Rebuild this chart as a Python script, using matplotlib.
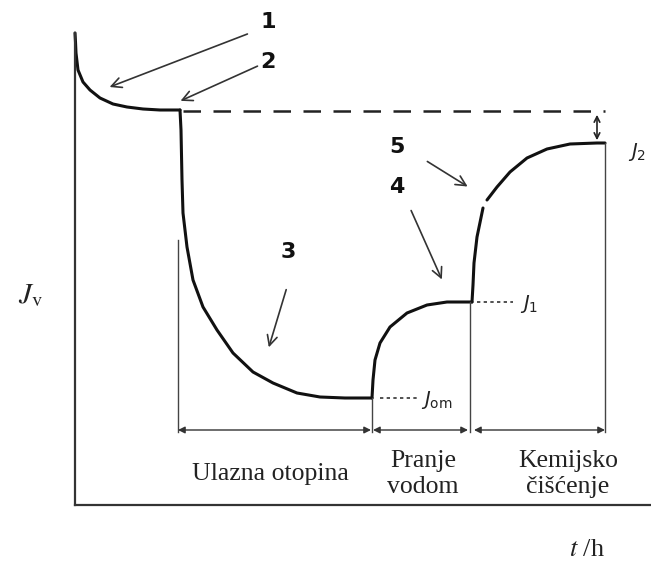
import matplotlib.pyplot as plt

# Schematic flux curve (x = time, y = flux in picture units,
# smaller y = higher flux, so the y axis is inverted)
start_t = [75, 75.5, 76, 78, 83, 90, 100, 113, 127, 143, 160, 180]
start_J = [33, 42, 53, 70, 82, 90, 98, 104, 107, 109, 110, 110]

feed_t = [180, 181, 182, 183, 187, 193, 203, 217, 233, 253, 273, 297, 320, 345, 372]
feed_J = [110, 130, 180, 213, 247, 280, 307, 330, 353, 372, 383, 393, 397, 398, 398]

wash_t = [372, 373, 375, 380, 390, 407, 427, 447, 472]
wash_J = [398, 380, 360, 343, 327, 313, 305, 302, 302]

clean_t1 = [472, 473, 474, 477, 483]
clean_J1 = [302, 285, 263, 237, 208]
clean_t2 = [487, 497, 510, 527, 547, 570, 597, 605]
clean_J2 = [200, 187, 172, 158, 149, 144, 143, 143]

J0_level = 111
Jom_level = 398
J1_level = 302
J2_level = 143

t_feed_end = 372
t_wash_end = 470
t_end = 605

phase_labels = ['Ulazna otopina', 'Pranje\nvodom', 'Kemijsko\nčišćenje']
phase_x = [270, 423, 568]

fig = plt.figure(figsize=(6.51, 5.65), dpi=100)
ax = fig.add_axes([0, 0, 1, 1])
ax.set_xlim(0, 651)
ax.set_ylim(565, 0)
ax.set_xticks([])
ax.set_yticks([])
for s in ['top', 'right']:
  ax.spines[s].set_visible(False)
ax.spines['left'].set_position(('data', 75))
ax.spines['left'].set_bounds(33, 505)
ax.spines['bottom'].set_position(('data', 505))
ax.spines['bottom'].set_bounds(75, 651)
for s in ['left', 'bottom']:
  ax.spines[s].set_linewidth(1.6)
  ax.spines[s].set_color('#333333')

# Flux curve.
curve = dict(color='#111111', lw=2.2, solid_capstyle='round', solid_joinstyle='round')
ax.plot(start_t, start_J, **curve)
ax.plot(feed_t, feed_J, **curve)
ax.plot(wash_t, wash_J, **curve)
ax.plot(clean_t1, clean_J1, **curve)
ax.plot(clean_t2, clean_J2, **curve)

# Reference levels.
ax.plot([183, t_end], [J0_level, J0_level], color='#222222', lw=1.8, dashes=(7, 5))
ax.plot([380, 417], [Jom_level, Jom_level], color='#333333', lw=1.2, dashes=(2, 2))
ax.plot([477, 513], [J1_level, J1_level], color='#333333', lw=1.2, dashes=(2, 2))
ax.annotate('', xy=(597, J0_level + 1), xytext=(597, J2_level),
            arrowprops=dict(arrowstyle='<->', color='#222222', lw=1.2))

# Phase boundaries and brackets.
thin = dict(color='#444444', lw=1.0)
ax.plot([178, 178], [240, 432], **thin)
ax.plot([t_feed_end, t_feed_end], [Jom_level, 432], **thin)
ax.plot([t_wash_end, t_wash_end], [J1_level, 432], **thin)
ax.plot([t_end, t_end], [J2_level, 432], **thin)
bracket_y = 430
for x0, x1 in [(178, t_feed_end - 1), (t_feed_end + 1, t_wash_end - 2), (t_wash_end + 4, t_end)]:
  ax.annotate('', xy=(x1, bracket_y), xytext=(x0, bracket_y),
              arrowprops=dict(arrowstyle='<|-|>', color='#333333', lw=1.0,
                              mutation_scale=10, shrinkA=0, shrinkB=0))

for label, x in zip(phase_labels, phase_x):
  ax.text(x, 474, label, ha='center', va='center', fontsize=18.5,
          family='Liberation Serif', color='#222222', linespacing=1.25)

# Numbered pointers.
arrow = dict(arrowstyle='->', color='#333333', lw=1.2, mutation_scale=18)
num = dict(fontsize=16, fontweight='bold', ha='center', va='center', color='#111111')
ax.text(268, 22, '1', **num)
ax.annotate('', xy=(107, 88), xytext=(250, 33), arrowprops=arrow)
ax.text(268, 62, '2', **num)
ax.annotate('', xy=(178, 102), xytext=(260, 65), arrowprops=arrow)
ax.text(288, 252, '3', **num)
ax.annotate('', xy=(268, 350), xytext=(287, 287), arrowprops=arrow)
ax.text(397, 147, '5', **num)
ax.annotate('', xy=(470, 188), xytext=(425, 160), arrowprops=arrow)
ax.text(397, 187, '4', **num)
ax.annotate('', xy=(443, 282), xytext=(410, 208), arrowprops=arrow)

# Flux labels.
ax.text(421, 400, '$J_{\\mathrm{om}}$', fontsize=14, ha='left', va='center', color='#222222')
ax.text(520, 304, '$J_{1}$', fontsize=14, ha='left', va='center', color='#222222')
ax.text(628, 152, '$J_{2}$', fontsize=14, ha='left', va='center', color='#222222')
ax.text(30, 295, '$J_{\\mathrm{v}}$', fontsize=21, ha='center', va='center',
        math_fontfamily='stix', color='#222222')
ax.text(587, 550, '$t$ /h', fontsize=19, ha='center', va='center', math_fontfamily='stix',
        family='Liberation Serif', color='#222222')

fig.savefig('out.png', dpi=100)
